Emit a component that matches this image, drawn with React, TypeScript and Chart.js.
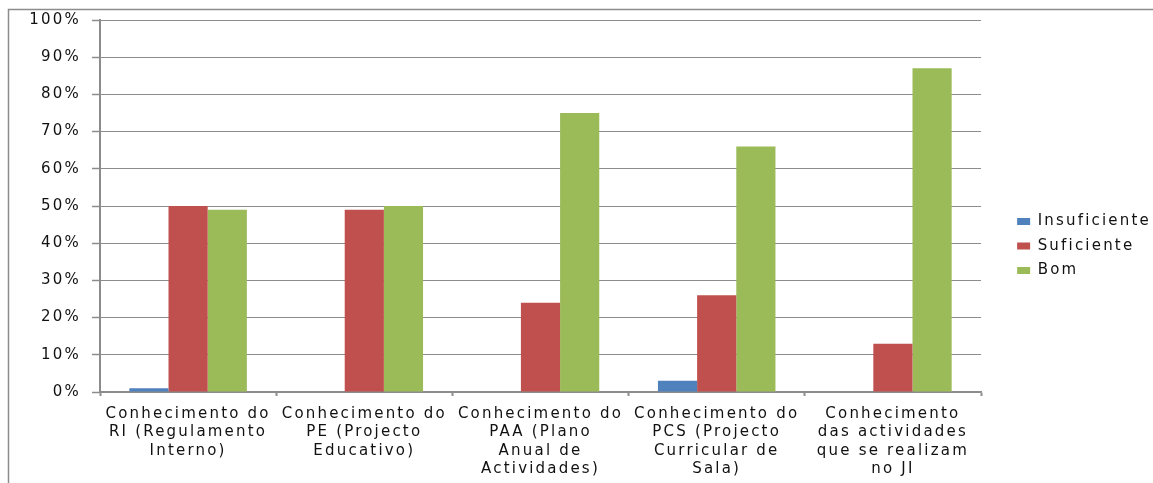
import React, { useEffect, useRef } from "react";
import { Chart, registerables } from "chart.js";

Chart.register(...registerables);

const categories: string[][] = [
  ["Conhecimento do", "RI (Regulamento", "Interno)"],
  ["Conhecimento do", "PE (Projecto", "Educativo)"],
  ["Conhecimento do", "PAA (Plano", "Anual de", "Actividades)"],
  ["Conhecimento do", "PCS (Projecto", "Curricular de", "Sala)"],
  ["Conhecimento", "das actividades", "que se realizam", "no JI"],
];

const seriesNames = ["Insuficiente", "Suficiente", "Bom"];
const insuficiente = [1, 0, 0, 3, 0];
const suficiente = [50, 49, 24, 26, 13];
const bom = [49, 50, 75, 66, 87];
const seriesColors = ["#4F81BD", "#C0504D", "#9BBB59"];

const yTickValues = [0, 10, 20, 30, 40, 50, 60, 70, 80, 90, 100];

const LETTER_SPACING = "2.2px";
const GRAY = "#8c8c8c";
const TEXT = "#111111";
const PLOT_RIGHT = 981;
const LEGEND_SHIFT = 8;

const stylePlugin = {
  id: "styleHelper",
  beforeLayout(chart: any) {
    chart.ctx.letterSpacing = LETTER_SPACING;
  },
  beforeDraw(chart: any) {
    const ctx = chart.ctx;
    ctx.letterSpacing = LETTER_SPACING;
    ctx.save();
    ctx.strokeStyle = GRAY;
    ctx.lineWidth = 1.5;
    ctx.strokeRect(8.5, 9.5, chart.width + 20, chart.height + 20);
    ctx.restore();
  },
};

export default function App() {
  const canvasRef = useRef<HTMLCanvasElement | null>(null);

  useEffect(() => {
    document.body.style.margin = "0";
    if (!canvasRef.current) return;
    Chart.defaults.font.family = "'DejaVu Sans', sans-serif";
    Chart.defaults.font.size = 15;
    Chart.defaults.color = TEXT;

    const chart = new Chart(canvasRef.current, {
      type: "bar",
      data: {
        labels: categories,
        datasets: [
          { label: seriesNames[0], data: insuficiente, backgroundColor: seriesColors[0], borderWidth: 0 },
          { label: seriesNames[1], data: suficiente, backgroundColor: seriesColors[1], borderWidth: 0 },
          { label: seriesNames[2], data: bom, backgroundColor: seriesColors[2], borderWidth: 0 },
        ],
      },
      plugins: [stylePlugin],
      options: {
        animation: false,
        responsive: true,
        maintainAspectRatio: false,
        layout: { padding: { top: 9, left: 0, right: -LEGEND_SHIFT, bottom: 0 } },
        datasets: {
          bar: { categoryPercentage: 0.667, barPercentage: 1 },
        },
        plugins: {
          legend: {
            position: "right",
            labels: {
              boxWidth: 13,
              boxHeight: 7,
              padding: 9.5,
              color: TEXT,
              font: { size: 15 },
            },
          },
          tooltip: { enabled: false },
          title: { display: false },
        },
        scales: {
          x: {
            type: "category",
            grid: {
              display: true,
              drawOnChartArea: false,
              drawTicks: true,
              tickLength: 4,
              tickWidth: 2,
              tickColor: GRAY,
              offset: true,
            },
            border: { display: true, color: GRAY, width: 1.5 },
            ticks: {
              autoSkip: false,
              maxRotation: 0,
              minRotation: 0,
              padding: 9,
              font: { size: 15, lineHeight: 1.22 },
              color: TEXT,
            },
            afterFit: (s: any) => {
              s.height = 91;
            },
          },
          y: {
            type: "linear",
            min: 0,
            max: 100,
            afterBuildTicks: (s: any) => {
              s.ticks = yTickValues.map((v) => ({ value: v }));
            },
            grid: {
              color: GRAY,
              lineWidth: 1,
              tickLength: 8,
              tickColor: GRAY,
              tickWidth: 1.5,
            },
            border: { display: true, color: GRAY, width: 2 },
            ticks: {
              padding: 11,
              color: TEXT,
              font: { size: 15 },
              callback: (v: any) => `${v}%`,
            },
            afterFit: (s: any) => {
              s.width = 100;
            },
          },
          y2: {
            type: "linear",
            position: "right",
            display: true,
            grid: { display: false },
            border: { display: false },
            ticks: { display: false },
            afterFit: (s: any) => {
              const lw = s.chart.legend ? s.chart.legend.width : 0;
              s.width = Math.max(0, s.chart.width + LEGEND_SHIFT - lw - PLOT_RIGHT);
            },
          },
        },
      },
    });
    return () => chart.destroy();
  }, []);

  return (
    <div style={{ position: "fixed", left: 0, top: 0, width: "1153px", height: "483px" }}>
      <canvas ref={canvasRef} />
    </div>
  );
}
